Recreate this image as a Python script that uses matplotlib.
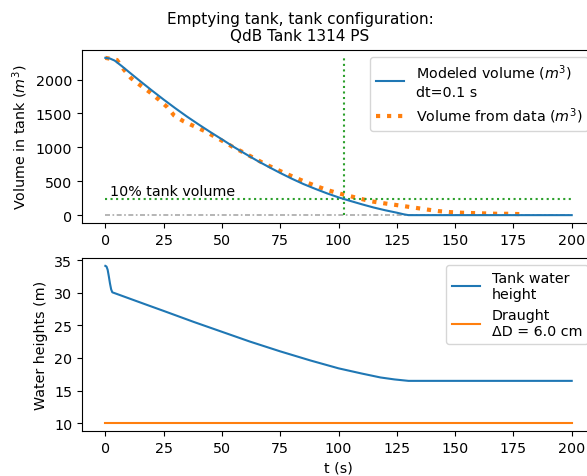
import numpy as np
import matplotlib
matplotlib.use("Agg")
import matplotlib.pyplot as plt

plt.rcParams["font.size"] = 10.3

# modeled tank volume (m3), dt=0.1 s simulation, sampled
t_model = [0, 2, 4, 7, 10, 15, 20, 25, 30, 35, 40, 45, 50, 55, 60, 65, 70, 75,
           80, 85, 90, 95, 100, 105, 110, 115, 120, 125, 128, 130, 200]
v_model = [2320, 2310, 2280, 2200, 2115, 1975, 1838, 1705, 1577, 1454, 1338, 1226,
           1118, 1008, 905, 805, 712, 622, 537, 458, 388, 322, 262, 210, 160, 113,
           72, 36, 12, 0, 0]

# measured volume (m3)
t_data = [0, 5, 8, 11, 15, 19, 23, 26.5, 29.5, 33.5, 38, 42.5, 47, 51, 55, 59.5,
          64, 68, 72.5, 77, 81.5, 86, 90.5, 95, 100, 105, 109.5, 114, 119, 124,
          129, 134, 138.5, 143, 148, 153, 158, 163, 168, 173, 178]
v_data = [2320, 2288, 2145, 2021, 1915, 1815, 1702, 1595, 1470, 1385, 1313, 1242,
          1156, 1080, 999, 920, 836, 763, 689, 619, 552, 487, 428, 372, 322, 280,
          241, 204, 177, 153, 128, 103, 80, 59, 44, 35, 30, 25, 20, 20, 15]

# tank water height and draught (m)
t_height = [0, 0.5, 1, 1.5, 2, 2.5, 3, 10, 17, 25, 38, 50, 62, 75, 88, 100,
            110, 118, 124, 130, 200]
h_tank = [34.1, 34.0, 33.5, 32.5, 31.4, 30.5, 30.05, 29.14, 28.23, 27.2, 25.5,
          24.0, 22.5, 21.0, 19.6, 18.4, 17.6, 17.0, 16.7, 16.48, 16.48]
t_draught = [0, 200]
h_draught = [10.0, 10.0]

v_max = 2320
t_10pct = 102.5

fig = plt.figure(figsize=(5.87, 4.77), dpi=100)
ax1 = fig.add_axes([0.1397, 0.5304, 0.874, 0.3627])
ax2 = fig.add_axes([0.1397, 0.0943, 0.874, 0.3627])

fig.suptitle("Emptying tank, tank configuration:\nQdB Tank 1314 PS",
             x=0.511, y=0.975, fontsize=11)

# volume plot
ax1.plot([0, 200], [0, 0], color="darkgray", linestyle=(0, (3, 1.5, 1, 1.5)),
         lw=1.2, zorder=1)
ax1.plot(t_model, v_model, color="tab:blue", lw=1.5,
         label="Modeled volume ($m^3$)\ndt=0.1 s", zorder=3)
ax1.plot(t_data, v_data, color="tab:orange", linestyle=":", lw=3,
         label="Volume from data ($m^3$)", zorder=2)
ax1.plot([0, 200], [0.1 * v_max, 0.1 * v_max], color="tab:green",
         linestyle=":", lw=1.5)
ax1.plot([t_10pct, t_10pct], [0, v_max], color="tab:green", linestyle=":", lw=1.5)
ax1.text(2, 300, "10% tank volume")
ax1.set_ylabel("Volume in tank ($m^3$)")
ax1.set_xticks(np.arange(0, 201, 25))
ax1.legend(loc="upper right")

# height plot
ax2.plot(t_height, h_tank, color="tab:blue", label="Tank water\nheight")
ax2.plot(t_draught, h_draught, color="tab:orange", label="Draught\nΔD = 6.0 cm")
ax2.set_ylabel("Water heights (m)")
ax2.set_xlabel("t (s)")
ax2.set_xticks(np.arange(0, 201, 25))
ax2.legend(loc="upper right")

fig.savefig("out.png", dpi=100)
